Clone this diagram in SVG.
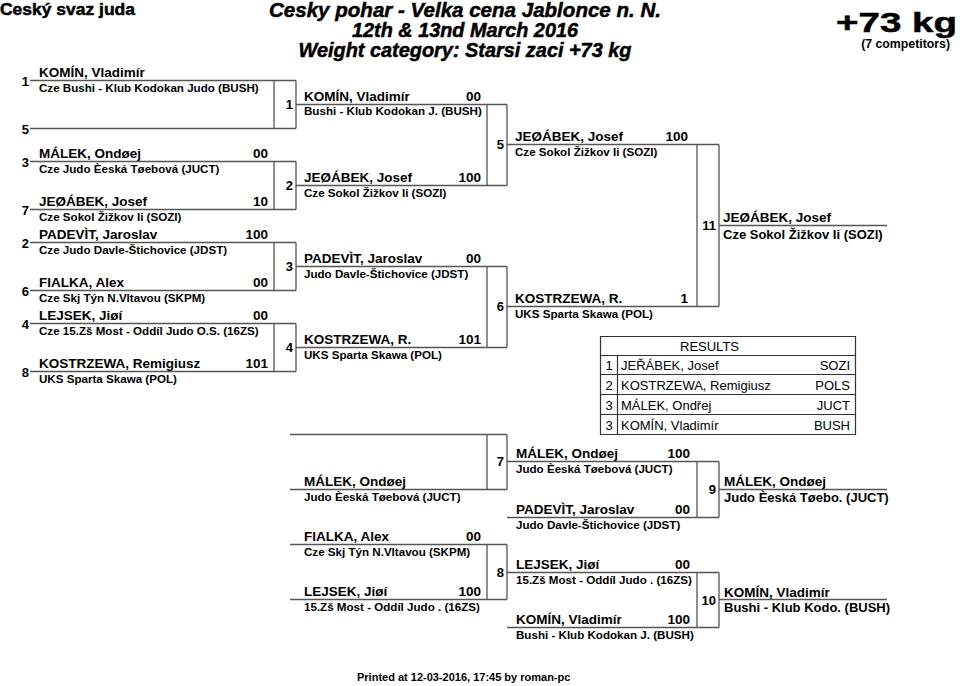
<svg xmlns="http://www.w3.org/2000/svg" width="960" height="686" viewBox="0 0 960 686">
<style>
text{font-family:"Liberation Sans",Arial,Helvetica,sans-serif;fill:#000}
.h{font-weight:bold;stroke:#000;stroke-width:0.5}
.t{font-weight:bold;font-style:italic;font-size:20px;text-anchor:middle;stroke:#000;stroke-width:0.5}
.n{font-weight:bold;font-size:13.5px}
.c{font-weight:bold;font-size:11.6px}
.w{font-weight:bold;font-size:13px}
.s{font-weight:bold;font-size:13.5px;text-anchor:end}
.sd{font-weight:bold;font-size:13px;text-anchor:end}
.mn{font-weight:bold;font-size:13px;text-anchor:end}
.r{font-size:13px}
.re{font-size:13px;text-anchor:end}
.rm{font-size:13px;text-anchor:middle}
.ln{stroke:#555;stroke-width:1.3;fill:none}
.tb{stroke:#333;stroke-width:1.2;fill:none}
</style>

<g id="header">
<text class="h" x="0" y="15" font-size="17" textLength="135" lengthAdjust="spacingAndGlyphs">Ceský svaz juda</text>
<text class="t" x="465" y="17" textLength="392" lengthAdjust="spacingAndGlyphs">Cesky pohar - Velka cena Jablonce n. N.</text>
<text class="t" x="465" y="37" textLength="226" lengthAdjust="spacingAndGlyphs">12th &amp; 13nd March 2016</text>
<text class="t" x="465" y="57" textLength="333" lengthAdjust="spacingAndGlyphs">Weight category: Starsi zaci +73 kg</text>
<text class="h" x="836" y="32" font-size="28" stroke-width="0.9" textLength="121" lengthAdjust="spacingAndGlyphs">+73 kg</text>
<text x="950" y="47.5" font-size="12.3" font-weight="bold" text-anchor="end">(7 competitors)</text>
</g>

<g id="connectors" class="ln">
<path d="M30 80.5H296M30 128.5H296M274 80.5V128.5M296 80.5V128.5M296 104.5H507"/>
<path d="M30 161.5H296M30 209.5H296M274 161.5V209.5M296 161.5V209.5M296 185.5H507"/>
<path d="M30 242.5H296M30 290.5H296M274 242.5V290.5M296 242.5V290.5M296 266.5H507"/>
<path d="M30 323.5H296M30 371.5H296M274 323.5V371.5M296 323.5V371.5M296 347.5H507"/>
<path d="M487 104.5V185.5M507 104.5V185.5M507 144.5H719"/>
<path d="M487 266.5V347.5M507 266.5V347.5M507 306.5H719"/>
<path d="M697 144.5V306.5M719 144.5V306.5M719 225.5H887"/>
<path d="M290 434.5H507M290 489.5H507M487 434.5V489.5M507 434.5V489.5M507 461.5H719"/>
<path d="M290 544.5H507M290 599.5H507M487 544.5V599.5M507 544.5V599.5M507 572.5H719"/>
<path d="M507 517.5H719M697 461.5V517.5M719 461.5V517.5M719 489.5H887"/>
<path d="M507 627.5H719M697 572.5V627.5M719 572.5V627.5M719 599.5H887"/>
</g>

<g id="seeds">
<text class="sd" x="29" y="85.5">1</text>
<text class="sd" x="29" y="133.5">5</text>
<text class="sd" x="29" y="166.5">3</text>
<text class="sd" x="29" y="214.5">7</text>
<text class="sd" x="29" y="247.5">2</text>
<text class="sd" x="29" y="295.5">6</text>
<text class="sd" x="29" y="328.5">4</text>
<text class="sd" x="29" y="376.5">8</text>
</g>

<g id="r1-komin"><text class="n" x="39" y="76.5">KOMÍN, Vladimír</text><text class="c" x="39" y="92">Cze Bushi - Klub Kodokan Judo (BUSH)</text></g>
<g id="r1-malek"><text class="n" x="39" y="157.5">MÁLEK, Ondøej</text><text class="s" x="268" y="157.5">00</text><text class="c" x="39" y="172.5">Cze Judo Èeská Tøebová (JUCT)</text></g>
<g id="r1-jerabek"><text class="n" x="39" y="206">JEØÁBEK, Josef</text><text class="s" x="268" y="206">10</text><text class="c" x="39" y="220.5">Cze Sokol Žižkov Ii (SOZI)</text></g>
<g id="r1-padevit"><text class="n" x="39" y="239">PADEVÌT, Jaroslav</text><text class="s" x="268" y="239">100</text><text class="c" x="39" y="253.5">Cze Judo Davle-Štichovice (JDST)</text></g>
<g id="r1-fialka"><text class="n" x="39" y="287">FIALKA, Alex</text><text class="s" x="268" y="287">00</text><text class="c" x="39" y="302">Cze Skj Týn N.Vltavou (SKPM)</text></g>
<g id="r1-lejsek"><text class="n" x="39" y="320">LEJSEK, Jiøí</text><text class="s" x="268" y="320">00</text><text class="c" x="39" y="335">Cze 15.Zš Most - Oddíl Judo O.S. (16ZS)</text></g>
<g id="r1-kostrzewa"><text class="n" x="39" y="368">KOSTRZEWA, Remigiusz</text><text class="s" x="268" y="368">101</text><text class="c" x="39" y="383">UKS Sparta Skawa (POL)</text></g>

<g id="match-numbers">
<text class="mn" x="293" y="109">1</text>
<text class="mn" x="293" y="190">2</text>
<text class="mn" x="293" y="271">3</text>
<text class="mn" x="293" y="352">4</text>
<text class="mn" x="504" y="149">5</text>
<text class="mn" x="504" y="311">6</text>
<text class="mn" x="716" y="230" font-size="12">11</text>
<text class="mn" x="504" y="466">7</text>
<text class="mn" x="504" y="577">8</text>
<text class="mn" x="716" y="494">9</text>
<text class="mn" x="716" y="604.5" font-size="12">10</text>
</g>

<g id="r2-komin"><text class="n" x="304" y="100.5">KOMÍN, Vladimír</text><text class="s" x="481" y="100.5">00</text><text class="c" x="304" y="115">Bushi - Klub Kodokan J. (BUSH)</text></g>
<g id="r2-jerabek"><text class="n" x="304" y="181.5">JEØÁBEK, Josef</text><text class="s" x="481" y="181.5">100</text><text class="c" x="304" y="196.5">Cze Sokol Žižkov Ii (SOZI)</text></g>
<g id="r2-padevit"><text class="n" x="304" y="263">PADEVÌT, Jaroslav</text><text class="s" x="481" y="263">00</text><text class="c" x="304" y="277.5">Judo Davle-Štichovice (JDST)</text></g>
<g id="r2-kostrzewa"><text class="n" x="304" y="344">KOSTRZEWA, R.</text><text class="s" x="481" y="344">101</text><text class="c" x="304" y="358.5">UKS Sparta Skawa (POL)</text></g>

<g id="r3-jerabek"><text class="n" x="515" y="141">JEØÁBEK, Josef</text><text class="s" x="688" y="141">100</text><text class="c" x="515" y="155.5">Cze Sokol Žižkov Ii (SOZI)</text></g>
<g id="r3-kostrzewa"><text class="n" x="515" y="303">KOSTRZEWA, R.</text><text class="s" x="688" y="303">1</text><text class="c" x="515" y="317.5">UKS Sparta Skawa (POL)</text></g>

<g id="winner"><text class="n" x="723" y="222">JEØÁBEK, Josef</text><text class="w" x="723" y="238.5">Cze Sokol Žižkov Ii (SOZI)</text></g>

<g id="results">
<path class="tb" d="M600.5 336.5H855.5V434.5H600.5ZM600.5 355.5H855.5M600.5 374.5H855.5M600.5 394.5H855.5M600.5 414.5H855.5M617.5 355.5V434.5"/>
<text class="r" x="680" y="350.5">RESULTS</text>
<text class="rm" x="609" y="370">1</text><text class="r" x="621" y="370">JEŘÁBEK, Josef</text><text class="re" x="850" y="370">SOZI</text>
<text class="rm" x="609" y="390">2</text><text class="r" x="621" y="390">KOSTRZEWA, Remigiusz</text><text class="re" x="850" y="390">POLS</text>
<text class="rm" x="609" y="410">3</text><text class="r" x="621" y="410">MÁLEK, Ondřej</text><text class="re" x="850" y="410">JUCT</text>
<text class="rm" x="609" y="429.5">3</text><text class="r" x="621" y="429.5">KOMÍN, Vladimír</text><text class="re" x="850" y="429.5">BUSH</text>
</g>

<g id="rp-malek"><text class="n" x="304" y="486">MÁLEK, Ondøej</text><text class="c" x="304" y="500.5">Judo Èeská Tøebová (JUCT)</text></g>
<g id="rp-fialka"><text class="n" x="304" y="541">FIALKA, Alex</text><text class="s" x="481" y="541">00</text><text class="c" x="304" y="556">Cze Skj Týn N.Vltavou (SKPM)</text></g>
<g id="rp-lejsek"><text class="n" x="304" y="596">LEJSEK, Jiøí</text><text class="s" x="481" y="596">100</text><text class="c" x="304" y="611">15.Zš Most - Oddíl Judo . (16ZS)</text></g>

<g id="m9-malek"><text class="n" x="516" y="458">MÁLEK, Ondøej</text><text class="s" x="690" y="458">100</text><text class="c" x="516" y="472.5">Judo Èeská Tøebová (JUCT)</text></g>
<g id="m9-padevit"><text class="n" x="516" y="514">PADEVÌT, Jaroslav</text><text class="s" x="690" y="514">00</text><text class="c" x="516" y="528.5">Judo Davle-Štichovice (JDST)</text></g>
<g id="m9-winner"><text class="n" x="724" y="486">MÁLEK, Ondøej</text><text class="w" x="724" y="501.5">Judo Èeská Tøebo. (JUCT)</text></g>

<g id="m10-lejsek"><text class="n" x="516" y="569">LEJSEK, Jiøí</text><text class="s" x="690" y="569">00</text><text class="c" x="516" y="583.5">15.Zš Most - Oddíl Judo . (16ZS)</text></g>
<g id="m10-komin"><text class="n" x="516" y="624">KOMÍN, Vladimír</text><text class="s" x="690" y="624">100</text><text class="c" x="516" y="638.5">Bushi - Klub Kodokan J. (BUSH)</text></g>
<g id="m10-winner"><text class="n" x="724" y="596.5">KOMÍN, Vladimír</text><text class="w" x="724" y="612">Bushi - Klub Kodo. (BUSH)</text></g>

<g id="footer"><text x="357" y="680.5" font-size="11" font-weight="bold">Printed at 12-03-2016, 17:45 by roman-pc</text></g>
</svg>
